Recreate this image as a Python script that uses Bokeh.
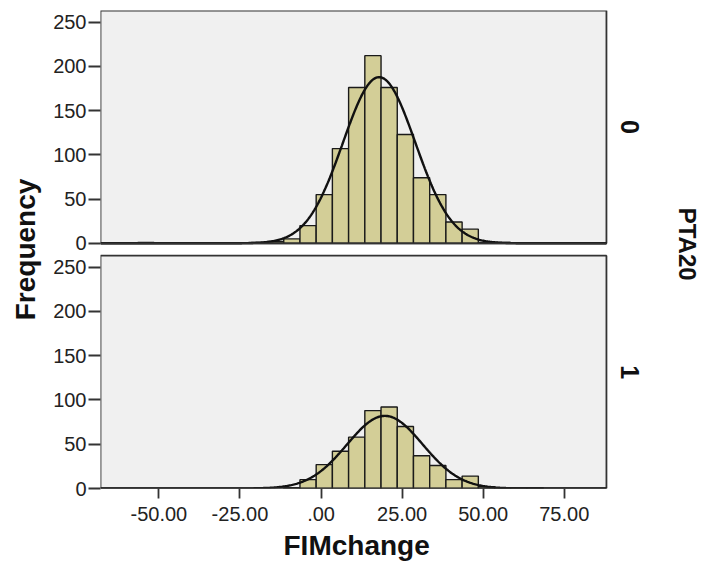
import numpy as np
from bokeh.plotting import figure
from bokeh.models import Range1d, FixedTicker, CustomJSTickFormatter, Label, Title
from bokeh.embed import file_html
from bokeh.resources import INLINE

# ---- data ----
bin_edges = [-56.5, -51.5, -46.5, -41.5, -36.5, -31.5, -26.5, -21.5, -16.5, -11.5,
             -6.5, -1.5, 3.5, 8.5, 13.5, 18.5, 23.5, 28.5, 33.5, 38.5,
             43.5, 48.5, 53.5, 58.5, 63.5, 68.5]
counts_pta0 = [1, 0, 0, 0, 0, 0, 0, 1, 2, 5,
               20, 55, 107, 176, 212, 176, 123, 74, 55, 24,
               16, 1, 1, 0, 0]
counts_pta1 = [0, 0, 0, 0, 0, 0, 0, 0, 0, 1,
               10, 27, 42, 58, 88, 92, 70, 37, 26, 10,
               14, 2, 1, 1, 1]
panel_labels = ["0", "1"]
x_ticks = [-50, -25, 0, 25, 50, 75]
y_ticks = [0, 50, 100, 150, 200, 250]

XMIN, XMAX = -68, 88          # panel x extent
X_FRAME_END = 117.0           # frame extends right to hold the panel labels
PANEL_MAX = 263
GAP = 14
OFFSET = PANEL_MAX + GAP

FONT = "Liberation Sans"
BAR_FILL = "#D3CE97"
PANEL_BG = "#F0F0F0"
EDGE = "#333333"

W, H = 700, 572
LEFT, TOP, BOTTOM = 100, 10, 84

p = figure(width=W, height=H, output_backend="svg", toolbar_location=None,
           x_range=Range1d(XMIN, X_FRAME_END), y_range=Range1d(0, 2 * PANEL_MAX + GAP),
           min_border_left=LEFT, min_border_right=0,
           min_border_top=TOP, min_border_bottom=BOTTOM)
p.extra_y_ranges = {"top": Range1d(-OFFSET, PANEL_MAX)}
p.outline_line_color = None
p.background_fill_color = "white"
p.border_fill_color = "white"
p.xgrid.visible = False
p.ygrid.visible = False

edges = np.array(bin_edges)
width_bin = float(edges[1] - edges[0])
xs = np.linspace(XMIN, XMAX, 500)

for counts, rng in [(counts_pta0, "top"), (counts_pta1, "default")]:
    c = np.array(counts, dtype=float)
    # panel background
    p.quad(left=[XMIN], right=[XMAX], bottom=[0], top=[PANEL_MAX],
           fill_color=PANEL_BG, line_color=EDGE, line_width=1.8, y_range_name=rng)
    m = c > 0
    p.quad(left=edges[:-1][m], right=edges[1:][m], bottom=0, top=c[m],
           fill_color=BAR_FILL, line_color="#1a1a1a", line_width=1.4, y_range_name=rng)
    # fitted normal curve from histogram data
    mids = (edges[:-1] + edges[1:]) / 2
    n = c.sum()
    mu = (c * mids).sum() / n
    sd = np.sqrt((c * (mids - mu) ** 2).sum() / (n - 1))
    ys = n * width_bin * np.exp(-0.5 * ((xs - mu) / sd) ** 2) / (sd * np.sqrt(2 * np.pi))
    p.line(xs, ys, line_color="#111111", line_width=2.4, y_range_name=rng)
    p.segment(x0=[XMIN], x1=[XMAX], y0=[0], y1=[0], line_color=EDGE, line_width=1.8,
              y_range_name=rng)

# y axis: ticks for both panels
p.yaxis.ticker = FixedTicker(ticks=y_ticks + [OFFSET + t for t in y_ticks])
p.yaxis.formatter = CustomJSTickFormatter(args=dict(off=OFFSET),
                                          code="return String(tick >= off ? tick - off : tick);")
p.yaxis.axis_label = "Frequency"
p.yaxis.axis_line_color = None
p.yaxis.major_tick_in = 0
p.yaxis.major_tick_out = 12
p.yaxis.major_tick_line_color = EDGE
p.yaxis.major_tick_line_width = 1.8
p.yaxis.minor_tick_line_color = None
p.yaxis.major_label_standoff = 2
p.yaxis.axis_label_standoff = 9
p.yaxis.axis_label_text_font = FONT
p.yaxis.axis_label_text_font_size = "28px"
p.yaxis.axis_label_text_font_style = "bold"
p.yaxis.axis_label_text_color = "#111111"

p.xaxis.ticker = FixedTicker(ticks=x_ticks)
p.xaxis.formatter = CustomJSTickFormatter(code="return tick == 0 ? '.00' : tick.toFixed(2);")
p.xaxis.axis_line_color = None
p.xaxis.major_tick_in = 0
p.xaxis.major_tick_out = 10
p.xaxis.major_tick_line_color = EDGE
p.xaxis.major_tick_line_width = 1.8
p.xaxis.minor_tick_line_color = None
p.xaxis.major_label_standoff = 8

for ax in (p.xaxis, p.yaxis):
    ax.major_label_text_font = FONT
    ax.major_label_text_font_size = "20px"
    ax.major_label_text_color = "#222222"

# x-axis title, centred under the panels
p.add_layout(Title(text="FIMchange", align="left", offset=183, standoff=9,
                   vertical_align="bottom",
                   text_font=FONT, text_font_size="28px", text_font_style="bold",
                   text_color="#111111"), "below")

# right-hand panel labels
for lab, yc in zip(panel_labels, [OFFSET + PANEL_MAX / 2, PANEL_MAX / 2]):
    p.add_layout(Label(x=95.4, y=yc, text=lab,
                       angle=-np.pi / 2, text_align="center", text_baseline="middle",
                       text_font=FONT, text_font_size="25px", text_font_style="bold",
                       text_color="#111111"))
p.add_layout(Label(x=113.1, y=PANEL_MAX + GAP / 2 + 6, text="PTA20",
                   angle=-np.pi / 2, text_align="center", text_baseline="middle",
                   text_font=FONT, text_font_size="24px", text_font_style="bold",
                   text_color="#111111"))

open("out.html", "w").write(file_html(p, INLINE))
